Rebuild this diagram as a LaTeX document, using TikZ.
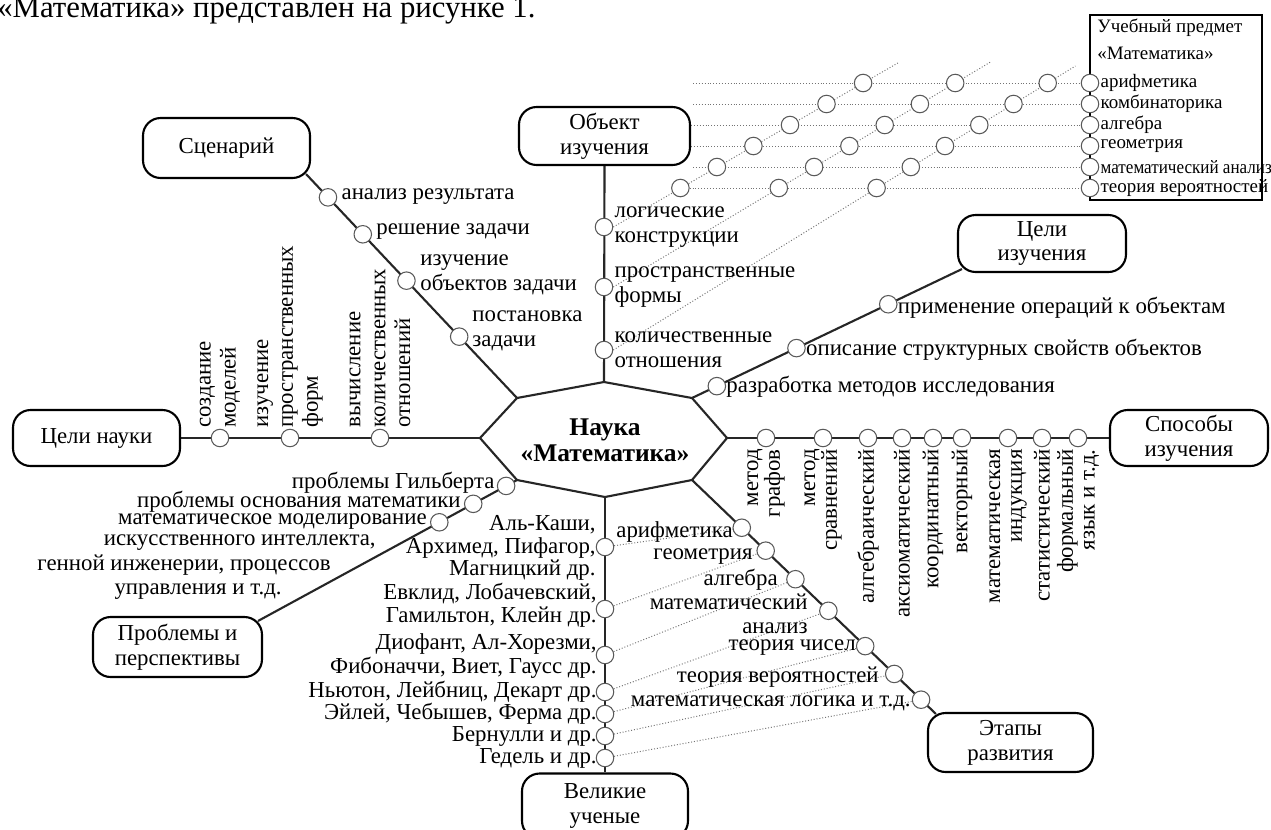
\documentclass[tikz,border=0pt]{standalone}
\usepackage{fontspec}
\usepackage{graphicx}
\setmainfont{Liberation Serif}
\usetikzlibrary{calc}
\pgfdeclarelayer{bg}
\pgfdeclarelayer{paper}
\pgfsetlayers{paper,bg,main}
\begin{document}
\begin{tikzpicture}[x=0.02cm,y=-0.02cm,
  font=\fontsize{13}{14.2}\selectfont,
  rbox/.style={draw, line width=1.2pt, rounded corners=10pt, align=center, inner sep=0pt, fill=white},
  ln/.style={line width=1.2pt, black!85},
  dl/.style={black!55, line width=0.55pt, dash pattern=on 0.55pt off 1.1pt},
  cdot/.style={circle, draw=black!65, fill=white, line width=0.6pt, minimum size=0.35cm, inner sep=0pt},
  lbl/.style={inner sep=0pt, align=left},
  lblr/.style={inner sep=0pt, align=right},
]
\useasboundingbox (0,0) rectangle (1271,829);
\begin{pgfonlayer}{paper}
\fill[white] (0,0) rectangle (1271,829);
\end{pgfonlayer}

% title line (cut at top)
\node[inner sep=0pt, anchor=base west, font=\fontsize{17.5}{18}\selectfont] (title) at (-3,17) {«Математика» представлен на рисунке 1.};

% boxes
\node[rbox, minimum width=3.34cm, minimum height=1.2cm] (sc) at (226.5,148) {Сценарий};
\node[rbox, minimum width=3.42cm, minimum height=1.16cm] (obj) at (604.5,136) {Объект\\изучения};
\node[rbox, minimum width=3.36cm, minimum height=1.14cm] (ci) at (1042,243.5) {Цели\\изучения};
\node[rbox, minimum width=3.34cm, minimum height=1.12cm] (cn) at (96.5,438) {Цели науки};
\node[rbox, minimum width=3.16cm, minimum height=1.12cm] (sp) at (1189,438) {Способы\\изучения};
\node[rbox, minimum width=3.38cm, minimum height=1.2cm] (pp) at (177.5,647) {Проблемы и\\перспективы};
\node[rbox, minimum width=3.32cm, minimum height=1.3cm] (vu) at (605,806) {Великие\\ученые};
\node[rbox, minimum width=3.3cm, minimum height=1.18cm] (et) at (1010.5,742.5) {Этапы\\развития};
\node[draw, line width=1.2pt, fill=white, minimum width=3.44cm, minimum height=3.7cm, inner sep=0pt] (ub) at (1176,107.5) {};
\tikzset{ubt/.style={lbl, font=\fontsize{10.8}{12}\selectfont}}
\node[ubt, anchor=west] (ubt1) at (1097,28) {Учебный предмет};
\node[ubt, anchor=west] (ubt2) at (1097,53) {«Математика»};

% octagon
\coordinate (oL) at (480,438);
\coordinate (oUL) at (517,398);
\coordinate (oT) at (604,382);
\coordinate (oUR) at (692,398);
\coordinate (oR) at (727,438);
\coordinate (oLR) at (692,480);
\coordinate (oB) at (605,497);
\coordinate (oLL) at (517,480);
\draw[ln] (oL)--(oUL)--(oT)--(oUR)--(oR)--(oLR)--(oB)--(oLL)--cycle;
\node[font=\fontsize{14.5}{14.8}\selectfont\bfseries, align=center, inner sep=0pt] (core) at (605,440) {Наука\\«Математика»};

% connector end points on rounded boxes
\coordinate (scP) at ($(sc.south east)+(-5,-5)$);
\coordinate (ciP) at ($(ci.south west)+(5,-4)$);
\coordinate (ppP) at ($(pp.north east)+(-5,5)$);
\coordinate (etP) at ($(et.north west)+(9,2)$);

% --- Сценарий branch
\node[cdot] (s1) at ($(oUL)!0.274!(scP)$) {};
\node[cdot] (s2) at ($(oUL)!0.524!(scP)$) {};
\node[cdot] (s3) at ($(oUL)!0.731!(scP)$) {};
\node[cdot] (s4) at ($(oUL)!0.896!(scP)$) {};
\node[lbl, anchor=west] (ls4) at ($(s4.east)+(4,-1)$) {анализ результата};
\node[lbl, anchor=west] (ls3) at ($(s3.east)+(4,-3)$) {решение задачи};
\node[lbl, anchor=west] (ls2) at (420,274.5) {изучение\\объектов задачи};
\node[lbl, anchor=west] (ls1) at (472,330.5) {постановка\\задачи};

% --- Объект изучения branch
\node[cdot] (o1) at (604,227) {};
\node[cdot] (o2) at (604,287) {};
\node[cdot] (o3) at (604,350) {};
\node[lbl, anchor=west] (lo1) at ($(o1.east)+(1,0)$) {логические\\конструкции};
\node[lbl, anchor=west] (lo2) at ($(o2.east)+(1,0)$) {пространственные\\формы};
\node[lbl, anchor=west] (lo3) at ($(o3.east)+(1,0)$) {количественные\\отношения};

% --- grid of the school subject
\coordinate (d1e) at (899.6,62);
\coordinate (d2e) at (990.5,62);
\coordinate (d3e) at (1075.4,66);
\foreach \y/\xa/\xb/\xc/\xs [count=\i] in {83/863.1/955.2/1047.7/693, 104/826.5/919.9/1013.5/693, 125/790/884.7/979.3/691, 146/753.4/849.4/945/691, 167/716.9/814.1/910.8/693, 188/680.4/778.8/876.6/680}{
  \node[cdot] (a\i) at (\xa,\y) {};
  \node[cdot] (b\i) at (\xb,\y) {};
  \node[cdot] (c\i) at (\xc,\y) {};
  \node[cdot] (u\i) at (1090,\y) {};
  \coordinate (rs\i) at (\xs,\y);
}
\node[ubt, anchor=west] (lu1) at ($(u1.east)+(1,0)$) {арифметика};
\node[ubt, anchor=west] (lu2) at ($(u2.east)+(1,0)$) {комбинаторика};
\node[ubt, anchor=west] (lu3) at ($(u3.east)+(1,0)$) {алгебра};
\node[ubt, anchor=west] (lu4) at ($(u4.east)+(1,0)$) {геометрия};
\node[ubt, anchor=west] (lu5) at ($(u5.east)+(1,0)$) {\scalebox{0.9}[1]{математический анализ}};
\node[ubt, anchor=west] (lu6) at ($(u6.east)+(1,0)$) {теория вероятностей};

% --- Цели изучения branch
\node[cdot] (g1) at ($(oUR)!0.092!(ciP)$) {};
\node[cdot] (g2) at ($(oUR)!0.387!(ciP)$) {};
\node[cdot] (g3) at ($(oUR)!0.727!(ciP)$) {};
\node[lbl, anchor=west] (lg1) at ($(g1.east)+(0,1)$) {разработка методов исследования};
\node[lbl, anchor=west] (lg2) at ($(g2.east)+(0,2)$) {описание структурных свойств объектов};
\node[lbl, anchor=west] (lg3) at ($(g3.east)+(0,3)$) {применение операций к объектам};

% --- Цели науки branch
\node[cdot] (n1) at (220,438) {};
\node[cdot] (n2) at (290,438) {};
\node[cdot] (n3) at (380,438) {};
\node[lbl, rotate=90, anchor=west] (ln1) at (220,428) {создание\\моделей};
\node[lbl, rotate=90, anchor=west] (ln2) at (290,428) {изучение\\пространственных\\форм};
\node[lbl, rotate=90, anchor=west] (ln3) at (380,428) {вычисление\\количественных\\отношений};

% --- Способы изучения branch
\foreach \x [count=\i] in {766,823,868,902,933,962,1008,1042,1078}{
  \node[cdot] (m\i) at (\x,438) {};
}
\tikzset{rl/.style={lblr, rotate=90, anchor=east, font=\fontsize{13}{12.4}\selectfont}}
\node[rl] (lm1) at (766,449) {метод\\графов};
\node[rl] (lm2) at (823,449) {метод\\сравнений};
\node[rl] (lm3) at (868,449) {алгебраический};
\node[rl] (lm4) at (902,449) {аксиоматический};
\node[rl] (lm5) at (933,449) {координатный};
\node[rl] (lm6) at (962,449) {векторный};
\node[rl] (lm7) at (1008,449) {математическая\\индукция};
\node[rl] (lm8) at (1042,449) {статистический};
\node[rl] (lm9) at (1078,449) {формальный\\язык и т.д.};

% --- Проблемы и перспективы branch
\node[cdot] (p1) at ($(oLL)!0.042!(ppP)$) {};
\node[cdot] (p2) at ($(oLL)!0.169!(ppP)$) {};
\node[cdot] (p3) at ($(oLL)!0.300!(ppP)$) {};
\node[lblr, anchor=east] (lp1) at ($(p1.west)+(-2,-3)$) {проблемы Гильберта};
\node[lblr, anchor=east] (lp2) at ($(p2.west)+(-3,-2)$) {проблемы основания математики};
\node[lblr, anchor=east] (lp3) at ($(p3.west)+(-3,-1)$) {математическое моделирование};
\node[lblr, anchor=east] (lp4) at (376,543) {искусственного интеллекта,};
\node[lblr, anchor=east] (lp5) at (331,565) {генной инженерии, процессов};
\node[lblr, anchor=east] (lp6) at (282,592) {управления и т.д.};

% --- Великие ученые branch
\foreach \y [count=\i] in {547,609,655,692,714,736,758}{
  \node[cdot] (v\i) at (605,\y) {};
}
\node[lblr, anchor=east, font=\fontsize{13}{12.6}\selectfont] (lv1) at (596,548) {Аль-Каши,\\Архимед, Пифагор,\\Магницкий др.};
\node[lblr, anchor=east, font=\fontsize{13}{13.2}\selectfont] (lv2) at (597,605) {Евклид, Лобачевский,\\Гамильтон, Клейн др.};
\node[lblr, anchor=east, font=\fontsize{13}{13.8}\selectfont] (lv3) at (597,656) {Диофант, Ал-Хорезми,\\Фибоначчи, Виет, Гаусс др.};
\node[lblr, anchor=east] (lv4) at (597,692) {Ньютон, Лейбниц, Декарт др.};
\node[lblr, anchor=east] (lv5) at (597,714) {Эйлей, Чебышев, Ферма др.};
\node[lblr, anchor=east] (lv6) at (597,736) {Бернулли и др.};
\node[lblr, anchor=east] (lv7) at (597,758) {Гедель и др.};

% --- Этапы развития branch
\foreach \t [count=\i] in {0.204,0.302,0.424,0.559,0.710,0.829,0.939}{
  \node[cdot] (e\i) at ($(oLR)!\t!(etP)$) {};
}
\node[lblr, anchor=east] (le1) at (733,532) {арифметика};
\node[lblr, anchor=east] (le2) at (753,557) {геометрия};
\node[lblr, anchor=east] (le3) at (778,580) {алгебра};
\node[lblr, anchor=east, font=\fontsize{13}{13.6}\selectfont] (le4) at (808,614) {математический\\анализ};
\node[lblr, anchor=east] (le5) at (856,648) {теория чисел};
\node[lblr, anchor=east] (le6) at (879,677) {теория вероятностей};
\node[lblr, anchor=east] (le7) at (911,703) {математическая логика и т.д.};

% ===== connectors (behind)
\begin{pgfonlayer}{bg}
  \draw[ln] (oUL) -- (scP);
  \draw[ln] (oT) -- (obj.south);
  \draw[ln] (oUR) -- (ciP);
  \draw[ln] (oL) -- (cn.east);
  \draw[ln] (oR) -- (sp.west);
  \draw[ln] (oLL) -- (ppP);
  \draw[ln] (oB) -- (vu.north);
  \draw[ln] (oLR) -- (etP);
  % dotted grid
  \draw[dl] (o1.east) -- (d1e);
  \draw[dl] (o2.east) -- (d2e);
  \draw[dl] (o3.east) -- (d3e);
  \foreach \i in {1,...,5}{ \draw[dl] (rs\i) -- (u\i); }
  \draw[dl] (a6) -- (u6);
  % scientists to stages
  \foreach \i in {1,...,7}{ \draw[dl] (v\i) -- (e\i); }
\end{pgfonlayer}
\end{tikzpicture}
\end{document}
